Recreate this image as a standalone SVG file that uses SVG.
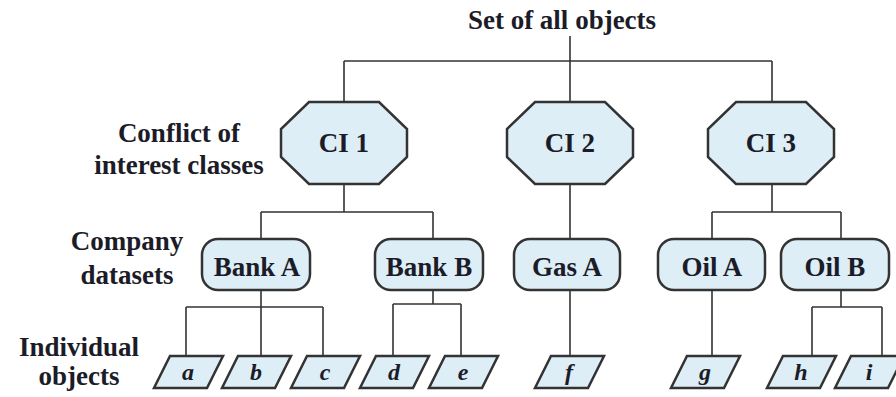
<svg xmlns="http://www.w3.org/2000/svg" width="896" height="397" viewBox="0 0 896 397">
<style>
.lbl{font-size:27px}
.nd{font-size:27px}
.obj{font-size:24px;font-style:italic}
.shape{fill:#ddeef7;stroke:#333;stroke-width:2.5;stroke-linejoin:miter}
.con{fill:none;stroke:#333;stroke-width:1.6}
</style>
<rect width="896" height="397" fill="#fff"/>
<g font-family="Liberation Serif, DejaVu Serif, Times New Roman, serif" font-weight="bold" fill="#1c1c28" text-anchor="middle">
<g id="labels">
<text class="lbl" x="562" y="29">Set of all objects</text>
<text class="lbl" x="179" y="142">Conflict of</text>
<text class="lbl" x="179" y="174">interest classes</text>
<text class="lbl" x="127" y="250">Company</text>
<text class="lbl" x="127" y="284">datasets</text>
<text class="lbl" x="79" y="356">Individual</text>
<text class="lbl" x="79" y="385">objects</text>
</g>
<g id="connectors" class="con">
<path d="M570 36V61M344 61H772M344 61V102M570 61V102M772 61V102"/>
<path d="M344 184V212M261 212H433M261 212V239M433 212V239"/>
<path d="M570 184V239M772 184V212M712 212H841M712 212V239M841 212V239"/>
<path d="M261 290V307M186 307H323M186 307V356M261 307V356M323 307V356"/>
<path d="M433 290V304M393 304H461M393 304V356M461 304V356"/>
<path d="M570 290V356M712 290V356"/>
<path d="M841 290V307M812 307H882M812 307V356M882 307V356"/>
</g>
<g id="ci1"><polygon class="shape" points="309,102 379,102 407,129 407,157 379,184 309,184 281,157 281,129"/><text class="nd" x="344" y="152">CI 1</text></g>
<g id="ci2"><polygon class="shape" points="535,102 605,102 633,129 633,157 605,184 535,184 507,157 507,129"/><text class="nd" x="570" y="152">CI 2</text></g>
<g id="ci3"><polygon class="shape" points="736,102 806,102 834,129 834,157 806,184 736,184 708,157 708,129"/><text class="nd" x="771" y="152">CI 3</text></g>
<g id="bankA"><rect class="shape" x="202" y="239" width="108" height="51" rx="16"/><text class="nd" x="257" y="276">Bank A</text></g>
<g id="bankB"><rect class="shape" x="375" y="239" width="108" height="51" rx="16"/><text class="nd" x="429" y="276">Bank B</text></g>
<g id="gasA"><rect class="shape" x="514" y="239" width="106" height="51" rx="16"/><text class="nd" x="567" y="276">Gas A</text></g>
<g id="oilA"><rect class="shape" x="658" y="239" width="107" height="51" rx="16"/><text class="nd" x="712" y="276">Oil A</text></g>
<g id="oilB"><rect class="shape" x="781" y="239" width="108" height="51" rx="16"/><text class="nd" x="835" y="276">Oil B</text></g>
<g id="obj-a"><polygon class="shape" points="170,356 223,356 207,388 154,388"/><text class="obj" x="188" y="380">a</text></g>
<g id="obj-b"><polygon class="shape" points="238,356 291,356 275,388 222,388"/><text class="obj" x="256" y="380">b</text></g>
<g id="obj-c"><polygon class="shape" points="307,356 360,356 344,388 291,388"/><text class="obj" x="325" y="380">c</text></g>
<g id="obj-d"><polygon class="shape" points="376,356 429,356 413,388 360,388"/><text class="obj" x="394" y="380">d</text></g>
<g id="obj-e"><polygon class="shape" points="445,356 498,356 482,388 429,388"/><text class="obj" x="463" y="380">e</text></g>
<g id="obj-f"><polygon class="shape" points="551,356 604,356 588,388 535,388"/><text class="obj" x="569" y="380">f</text></g>
<g id="obj-g"><polygon class="shape" points="687,356 740,356 724,388 671,388"/><text class="obj" x="705" y="380">g</text></g>
<g id="obj-h"><polygon class="shape" points="783,356 836,356 820,388 767,388"/><text class="obj" x="801" y="380">h</text></g>
<g id="obj-i"><polygon class="shape" points="851,356 904,356 888,388 835,388"/><text class="obj" x="869" y="380">i</text></g>
</g>
</svg>
